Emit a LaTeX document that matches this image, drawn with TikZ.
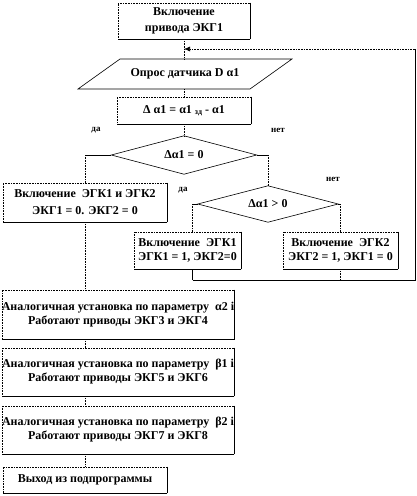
\documentclass[tikz,border=0pt]{standalone}
\usepackage{fontspec}
\setmainfont{Liberation Serif}
\usetikzlibrary{calc,arrows.meta}
\begin{document}
\begin{tikzpicture}[x=1pt,y=-1pt,
  box/.style={draw=black, densely dotted, line width=0.6pt, inner sep=0pt, align=center,
    font=\bfseries\fontsize{12}{14}\selectfont,
    append after command={(\tikzlastnode.north east) edge[draw,solid,line width=0.7pt] (\tikzlastnode.south east)
      (\tikzlastnode.south east) edge[draw,solid,line width=0.7pt] (\tikzlastnode.south west)}},
  txt/.style={inner sep=0pt, align=center, font=\bfseries\fontsize{12}{14}\selectfont},
  lbl/.style={inner sep=0pt, font=\bfseries\fontsize{9}{10}\selectfont},
  con/.style={densely dotted, line width=0.6pt},
  sol/.style={line width=0.6pt},
]
\useasboundingbox (0,0) rectangle (416,496);

% nodes
\node[box, minimum width=132, minimum height=36, font=\bfseries\fontsize{12}{16}\selectfont] (start) at (184,21) {Включение\\привода ЭКГ1};
\node[txt, minimum width=172, minimum height=30] (par) at (185,74) {Опрос датчика D α1};
\draw[sol] (78,89) -- (120,59) -- (292,59) -- (250,89) -- cycle;
\node[box, minimum width=134, minimum height=27] (delta) at (184,110.5) {Δ α1 = α1 \raisebox{-1pt}{\fontsize{8}{8}\selectfont зд} - α1};
\node[txt, minimum width=145, minimum height=38] (d1) at (184,155) {Δα1 = 0};
\draw[sol] (d1.west) -- (d1.north) -- (d1.east) -- (d1.south) -- cycle;
\node[box, minimum width=164, minimum height=39, font=\bfseries\fontsize{12}{17}\selectfont] (lb) at (85,202.5) {Включение\ \ ЭГК1 и ЭГК2\\ЭКГ1 = 0. ЭКГ2 = 0};
\node[txt, minimum width=140, minimum height=36] (d2) at (268,204) {Δα1 > 0};
\draw[sol] (d2.west) -- (d2.north) -- (d2.east) -- (d2.south) -- cycle;
\node[box, minimum width=107, minimum height=37] (b1) at (187.5,250.5) {Включение\ \ ЭГК1\\ЭГК1 = 1, ЭКГ2=0};
\node[box, minimum width=115, minimum height=37] (b2) at (340.5,250.5) {Включение\ \ ЭГК2\\ЭКГ2 = 1, ЭКГ1 = 0};
\node[box, minimum width=230, minimum height=49] (a1) at (118,314.5) {Аналогичная установка по параметру\ \ α2 i\\Работают приводы ЭКГ3 и ЭКГ4};
\node[box, minimum width=230, minimum height=48] (a2) at (118,372) {Аналогичная установка по параметру\ \ β1 i\\Работают приводы ЭКГ5 и ЭКГ6};
\node[box, minimum width=230, minimum height=48] (a3) at (118,430) {Аналогичная установка по параметру\ \ β2 i\\Работают приводы ЭКГ7 и ЭКГ8};
\node[box, minimum width=164, minimum height=26] (ex) at (85,480) {Выход из подпрограммы};

% labels
\node[lbl] (l1) at (96,130) {да};
\node[lbl] (l2) at (278,130) {нет};
\node[lbl] (l3) at (183,190) {да};
\node[lbl] (l4) at (333,179) {нет};

% coordinates
\coordinate (j) at (184,49);
\coordinate (c1) at (lb.north |- d1.west);
\coordinate (c2) at (d1.east -| d2.north);
\coordinate (c3) at ($(b1.north)+(5,0)$);
\coordinate (c4) at (d2.west -| c3);
\coordinate (c5) at (d2.east -| b2.north);
\coordinate (c6) at ($(b1.south)+(5,0)$);
\coordinate (mL) at (c6 |- 0,280);
\coordinate (mB) at (b2.south |- 0,280);
\coordinate (mR) at (415,280);
\coordinate (mT) at (415,49);

% connectors
\draw[con] (start.south) -- (start.south |- par.north);
\draw[con] (delta.north |- par.south) -- (delta.north);
\draw[con] (delta.south) -- (d1.north);
\draw[sol] (d1.west) -- (c1);
\draw[con] (c1) -- (lb.north);
\draw[sol] (d1.east) -- (c2);
\draw[con] (c2) -- (d2.north);
\draw[sol] (d2.west) -- (c4);
\draw[con] (c4) -- (c3);
\draw[sol] (d2.east) -- (c5);
\draw[con] (c5) -- (b2.north);
\draw[sol] (c6) -- (mL);
\draw[con] (b2.south) -- (mB);
\draw[sol] (mL) -- (mR) -- (mT);
\draw[con,-{Latex[length=6pt,width=5pt]}] (mT) -- (j);
\draw[con] (lb.south) -- (lb.south |- a1.north);
\draw[con] (a1.south -| lb.south) -- (a2.north -| lb.south);
\draw[con] (a2.south -| lb.south) -- (a3.north -| lb.south);
\draw[con] (a3.south -| ex.north) -- (ex.north);
\end{tikzpicture}
\end{document}
